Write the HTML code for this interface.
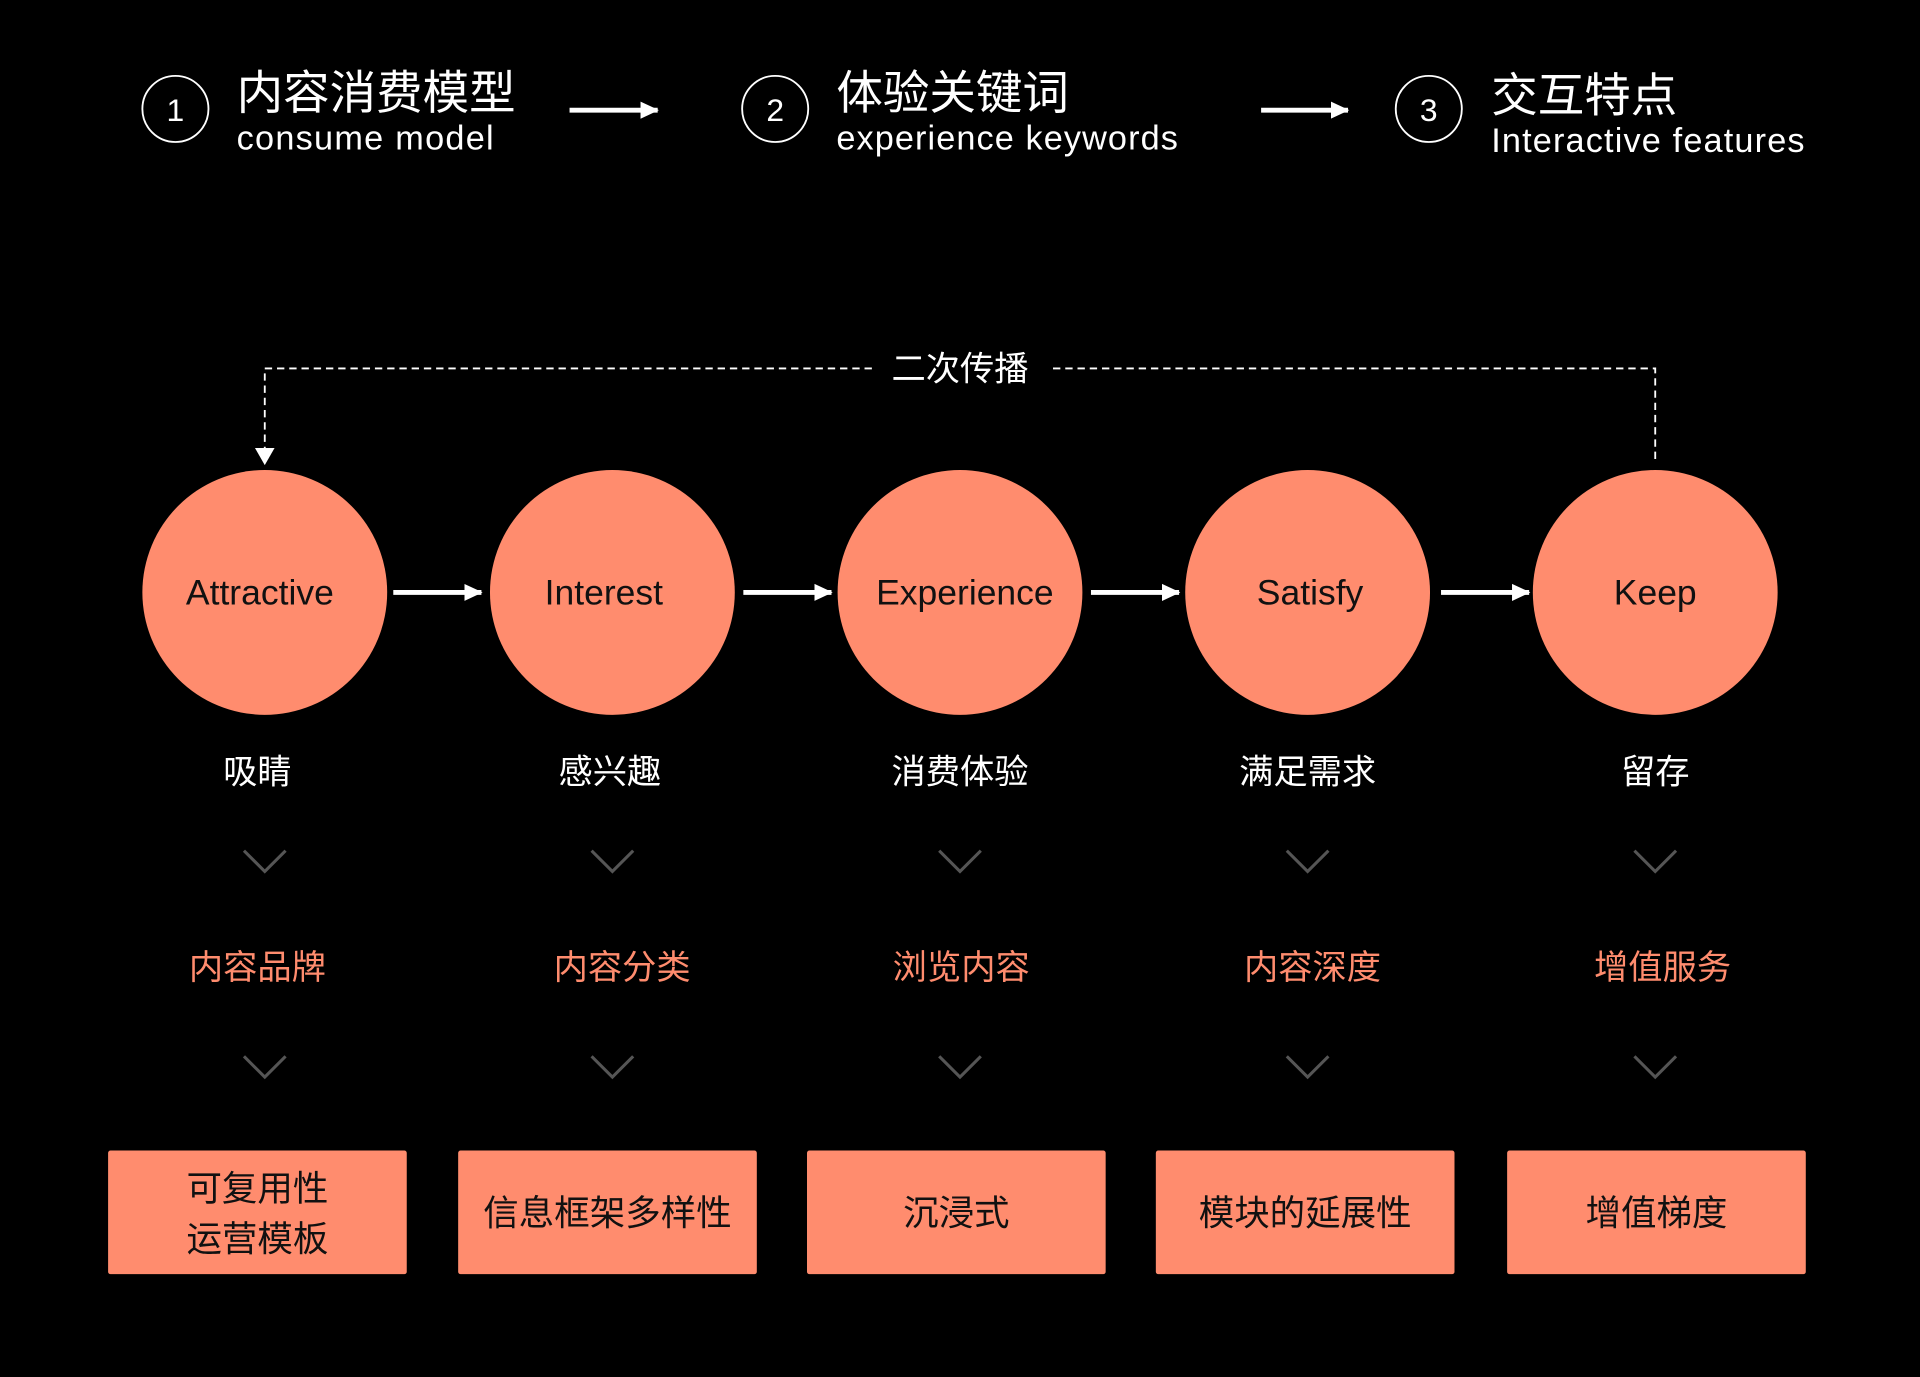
<!DOCTYPE html>
<html><head><meta charset="utf-8"><style>
html,body{margin:0;padding:0;background:#000;}
svg{display:block}
text{font-family:"Liberation Sans","Noto Sans CJK SC",sans-serif;}
</style></head><body>
<svg width="1920" height="1377" viewBox="0 0 1568 1125" xmlns="http://www.w3.org/2000/svg">
<rect width="1568" height="1125" fill="#000"/>
<defs>
<marker id="ah" markerWidth="16" markerHeight="16" refX="14" refY="8" orient="auto" markerUnits="userSpaceOnUse"><path d="M0,1 L15,8 L0,15 z" fill="#fff"/></marker>
</defs>
<g fill="none" stroke="#fff" stroke-width="1.5">
<circle cx="143" cy="89" r="27"/><circle cx="633" cy="89" r="27"/><circle cx="1167" cy="89" r="27"/>
</g>
<g fill="#fff" font-size="26" text-anchor="middle">
<text x="143" y="99">1</text><text x="633" y="99">2</text><text x="1167" y="99">3</text>
</g>
<g fill="#fff">
<text x="193" y="89" font-size="38">内容消费模型</text>
<text x="193" y="122" font-size="28" textLength="210">consume model</text>
<text x="683" y="89" font-size="38">体验关键词</text>
<text x="683" y="122" font-size="28" textLength="279">experience keywords</text>
<text x="1218" y="91" font-size="38">交互特点</text>
<text x="1218" y="124" font-size="28" textLength="256">Interactive features</text>
</g>
<g stroke="#fff" stroke-width="4" marker-end="url(#ah)">
<line x1="465" y1="90" x2="537" y2="90"/>
<line x1="1030" y1="90" x2="1101" y2="90"/>
</g>
<path d="M1352,375 L1352,301 L858,301 M712,301 L216,301 L216,368" fill="none" stroke="#fff" stroke-width="1.5" stroke-dasharray="6,4"/>
<path d="M208,366 L224,366 L216,380 z" fill="#fff"/>
<text x="784" y="311" font-size="28" fill="#fff" text-anchor="middle">二次传播</text>
<g fill="#FF8C6E">
<circle cx="216" cy="484" r="100"/><circle cx="500" cy="484" r="100"/><circle cx="784" cy="484" r="100"/><circle cx="1068" cy="484" r="100"/><circle cx="1352" cy="484" r="100"/>
</g>
<g fill="#111" font-size="29" text-anchor="middle">
<text x="212" y="494">Attractive</text><text x="493" y="494">Interest</text><text x="788" y="494">Experience</text><text x="1070" y="494">Satisfy</text><text x="1352" y="494">Keep</text>
</g>
<g stroke="#fff" stroke-width="4" marker-end="url(#ah)">
<line x1="321" y1="484" x2="393" y2="484"/>
<line x1="607" y1="484" x2="679" y2="484"/>
<line x1="891" y1="484" x2="963" y2="484"/>
<line x1="1177" y1="484" x2="1249" y2="484"/>
</g>
<g fill="#fff" font-size="28" text-anchor="middle">
<text x="210" y="640">吸睛</text><text x="498" y="640">感兴趣</text><text x="784" y="640">消费体验</text><text x="1068" y="640">满足需求</text><text x="1352" y="640">留存</text>
</g>
<g fill="none" stroke="#555" stroke-width="2.5">
<path d="M199,695 L216,712 L233,695"/><path d="M483,695 L500,712 L517,695"/><path d="M767,695 L784,712 L801,695"/><path d="M1051,695 L1068,712 L1085,695"/><path d="M1335,695 L1352,712 L1369,695"/>
<path d="M199,863 L216,880 L233,863"/><path d="M483,863 L500,880 L517,863"/><path d="M767,863 L784,880 L801,863"/><path d="M1051,863 L1068,880 L1085,863"/><path d="M1335,863 L1352,880 L1369,863"/>
</g>
<g fill="#FF8C6E" font-size="28" text-anchor="middle">
<text x="210" y="800">内容品牌</text><text x="508" y="800">内容分类</text><text x="785" y="800">浏览内容</text><text x="1072" y="800">内容深度</text><text x="1358" y="800">增值服务</text>
</g>
<g fill="#FF8C6E">
<rect x="88" y="940" width="244" height="101" rx="2"/><rect x="374" y="940" width="244" height="101" rx="2"/><rect x="659" y="940" width="244" height="101" rx="2"/><rect x="944" y="940" width="244" height="101" rx="2"/><rect x="1231" y="940" width="244" height="101" rx="2"/>
</g>
<g fill="#111" font-size="29" text-anchor="middle">
<text x="210" y="981">可复用性</text><text x="210" y="1022">运营模板</text>
<text x="496" y="1001">信息框架多样性</text><text x="781" y="1001">沉浸式</text><text x="1066" y="1001">模块的延展性</text><text x="1353" y="1001">增值梯度</text>
</g>
</svg>
</body></html>
